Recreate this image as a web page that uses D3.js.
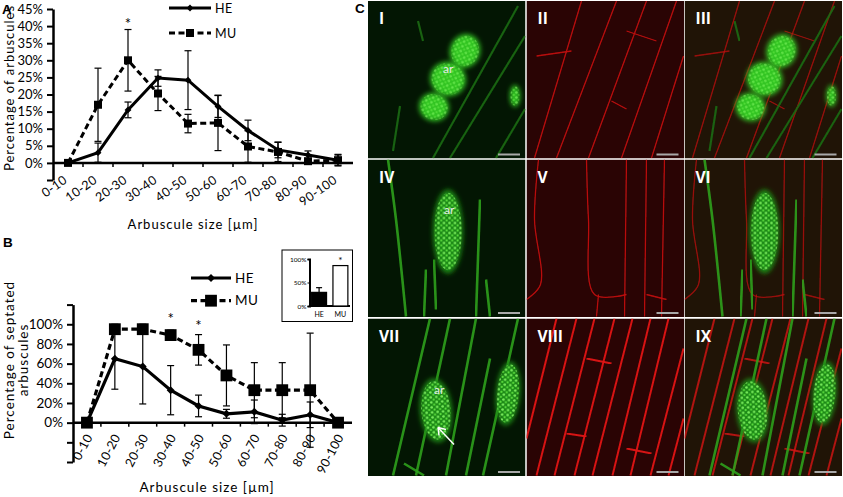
<!DOCTYPE html>
<html><head><meta charset="utf-8">
<script src="https://cdn.jsdelivr.net/npm/d3@7"></script>
<style>
body{margin:0;background:#fff;}
svg{display:block;font-family:Lato,"Open Sans",sans-serif;}
</style></head>
<body>
<svg id="fig" width="843" height="497"></svg>
<script>
// ---------- DATA ----------
const categories = ["0-10","10-20","20-30","30-40","40-50","50-60","60-70","70-80","80-90","90-100"];
// Panel A: percentage of arbuscules per size class
const heA    = [0, 3, 15.5, 24.8, 24.2, 16.5, 9.5, 3.8, 2.3, 0.8];
const heAErr = [0, 2.8, 2.3, 2.4, 8.6, 3.2, 3.0, 2.3, 1.2, 1.5];
const muA    = [0, 17, 30, 20.3, 11.5, 11.7, 4.8, 3.2, 0.5, 0.8];
const muAErr = [0, 10.7, 9, 5, 2.7, 8.1, 4.6, 2.8, 0.8, 1.7];
const sigA   = ["20-30"];
const ticksA = [-5, 0, 5, 10, 15, 20, 25, 30, 35, 40, 45];
// Panel B: percentage of septated arbuscules
const heB    = [0, 65, 57, 33, 17, 9, 11, 2.5, 8, 0];
const heBErr = [0, 31, 38, 25, 11, 4.5, 12, 6, 13, 0];
const muB    = [0, 95, 95, 89, 74, 48, 33, 33, 33, 0];
const muBErr = [0, 5, 5, 5, 15.5, 31, 28, 28, 58, 0];
const sigB   = ["30-40", "40-50"];
const ticksB = [-40, -20, 0, 20, 40, 60, 80, 100, 120];
// Inset: overall septated
const insetCats = ["HE", "MU"];
const insetVals = [29, 86];
const insetErr  = [10, 0];
const insetSig  = ["MU"];
const insetTicks = [0, 50, 100];
// Panel C tiles
const tileLabels = [["I","II","III"],["IV","V","VI"],["VII","VIII","IX"]];
const tileKinds  = ["green","red","merge"];

const svg = d3.select("#fig");
const defs = svg.append("defs");

// ---------- line chart helper ----------
function lineChart(cfg){
  const g = svg.append("g");
  const x = d3.scaleBand().domain(categories).range(cfg.xr).padding(0);
  const y = d3.scaleLinear().domain(cfg.yd).range(cfg.yr);
  const cx = c => x(c) + x.bandwidth()/2;

  const ya = g.append("g").attr("transform",`translate(${cfg.xr[0]},0)`)
    .call(d3.axisLeft(y).tickValues(cfg.ticks).tickSize(6).tickSizeOuter(0)
      .tickFormat(d => (d < 0 || d > cfg.maxLabel) ? "" : d + "%"));
  ya.select(".domain").attr("stroke","#000").attr("stroke-width",2.5);
  ya.selectAll(".tick line").attr("stroke","#000").attr("stroke-width",2);
  ya.selectAll(".tick text").attr("font-size",cfg.fs).attr("fill","#000").attr("x",-10)
    .attr("font-family","Lato");

  const xa = g.append("g").attr("transform",`translate(0,${y(0)})`);
  xa.append("line").attr("x1",cfg.xr[0]).attr("x2",cfg.xr[1]).attr("stroke","#000").attr("stroke-width",2.5);
  xa.selectAll("line.tk").data(categories.slice(1)).join("line").attr("class","tk")
    .attr("x1",d=>x(d)).attr("x2",d=>x(d))
    .attr("y1",0).attr("y2",4).attr("stroke","#000").attr("stroke-width",1.5);
  g.selectAll("text.xl").data(categories).join("text").attr("class","xl")
    .attr("transform", d => `translate(${cx(d)+cfg.lx},${cfg.ly}) rotate(${cfg.rot})`)
    .attr("text-anchor","end").attr("font-size",cfg.xfs).attr("letter-spacing",0.3).text(d=>d);

  const series = [
    {vals: cfg.he, err: cfg.heErr, dash: null, mark: "diamond"},
    {vals: cfg.mu, err: cfg.muErr, dash: cfg.dash, mark: "square"}
  ];
  series.forEach(s => {
    const pts = categories.map((c,i)=>({c, v:s.vals[i], e:s.err[i]}));
    const eb = g.append("g");
    pts.filter(p=>p.e>0).forEach(p=>{
      const X = cx(p.c);
      eb.append("line").attr("x1",X).attr("x2",X).attr("y1",y(p.v-p.e)).attr("y2",y(p.v+p.e)).attr("stroke","#000").attr("stroke-width",1.2);
      [p.v-p.e, p.v+p.e].forEach(v=>eb.append("line").attr("x1",X-3.5).attr("x2",X+3.5).attr("y1",y(v)).attr("y2",y(v)).attr("stroke","#000").attr("stroke-width",1.2));
    });
  });
  const symFor = m => m === "diamond"
      ? d3.symbol().type(d3.symbolDiamond2 || d3.symbolDiamond).size(cfg.dSize)
      : d3.symbol().type(d3.symbolSquare).size(cfg.sSize);
  series.forEach(s => {
    const pts = categories.map((c,i)=>({c, v:s.vals[i]}));
    g.append("path").datum(pts)
      .attr("d", d3.line().x(p=>cx(p.c)).y(p=>y(p.v)))
      .attr("fill","none").attr("stroke","#000").attr("stroke-width",cfg.lw)
      .attr("stroke-dasharray", s.dash);
    const sym = symFor(s.mark);
    g.selectAll(null).data(pts).join("path")
      .attr("transform", p=>`translate(${cx(p.c)},${y(p.v)})`)
      .attr("d", sym()).attr("fill","#000");
  });
  cfg.sig.forEach((c,i)=>{
    g.append("text").attr("x",cx(c)).attr("y",cfg.starY[i]).attr("text-anchor","middle")
      .attr("font-size",15).text("*");
  });
  [["HE",null,"diamond"],["MU",cfg.dash,"square"]].forEach((l,i)=>{
    const ly = cfg.legY[i];
    g.append("line").attr("x1",cfg.legX[0]).attr("x2",cfg.legX[1]).attr("y1",ly).attr("y2",ly)
      .attr("stroke","#000").attr("stroke-width",cfg.lw).attr("stroke-dasharray",l[1]);
    g.append("path").attr("transform",`translate(${(cfg.legX[0]+cfg.legX[1])/2},${ly})`).attr("d",symFor(l[2])()).attr("fill","#000");
    g.append("text").attr("x",cfg.legX[1]+4).attr("y",ly+4.5).attr("font-size",cfg.legFs).attr("letter-spacing",0.4).text(l[0]);
  });
}

lineChart({
  xr:[53,353], yd:[-5,45], yr:[180,9], ticks: ticksA, maxLabel: 45, fs: 13, xfs: 12.5,
  he: heA, heErr: heAErr, mu: muA, muErr: muAErr, dash:"6,3.5", lw:3,
  dSize: 30, sSize: 64, lx: 0, ly: 182, rot: -35, legFs: 12.5,
  sig: sigA, starY:[29], legX:[169,211], legY:[8,33]
});
lineChart({
  xr:[73,352], yd:[-40,120], yr:[462,304.6], ticks: ticksB, maxLabel: 100, fs: 13.5, xfs: 12.5,
  he: heB, heErr: heBErr, mu: muB, muErr: muBErr, dash:"6,3.5", lw:3.2,
  dSize: 40, sSize: 140, lx: 6, ly: 437, rot: -62, legFs: 13.5,
  sig: sigB, starY:[324,331], legX:[191,231], legY:[278,300.7]
});

// axis titles
const ttl = (t, tr, fs) => svg.append("text").attr("transform",tr).attr("text-anchor","middle").attr("font-size",fs).attr("letter-spacing",1).text(t);
ttl("Arbuscule size [µm]", "translate(193,229)", 13);
ttl("Arbuscule size [µm]", "translate(207,492)", 13.5);
ttl("Percentage of arbuscules", "translate(14,88) rotate(-90)", 13);
ttl("Percentage of septated", "translate(14,360) rotate(-90)", 13.5);
ttl("arbuscules", "translate(28,360) rotate(-90)", 13.5);
[["A",2,14],["B",3,247],["C",355,13]].forEach(p=>svg.append("text").attr("x",p[1]).attr("y",p[2]).attr("font-size",13.5).attr("font-weight","bold").attr("font-family","Liberation Sans").text(p[0]));

// ---------- inset ----------
(function(){
  const g = svg.append("g");
  g.append("rect").attr("x",282).attr("y",250).attr("width",70.5).attr("height",71.5).attr("fill","#fff").attr("stroke","#000").attr("stroke-width",1);
  const x = d3.scaleBand().domain(insetCats).range([309.5,350]).paddingInner(0.3).paddingOuter(0.1);
  const y = d3.scaleLinear().domain([0,100]).range([306,259]);
  const ya = g.append("g").attr("transform","translate(309.5,0)")
    .call(d3.axisLeft(y).tickValues(insetTicks).tickSize(2).tickFormat(d=>d+"%"));
  ya.select(".domain").attr("stroke-width",2);
  ya.selectAll(".tick text").attr("font-size",6.5).attr("x",-3).attr("font-family","Lato");
  g.append("line").attr("x1",309.5).attr("x2",350).attr("y1",306).attr("y2",306).attr("stroke","#000").attr("stroke-width",2);
  insetCats.forEach((c,i)=>{
    g.append("rect").attr("x",x(c)).attr("y",y(insetVals[i])).attr("width",x.bandwidth()).attr("height",y(0)-y(insetVals[i]))
      .attr("fill", i===0 ? "#000" : "#fff").attr("stroke","#000").attr("stroke-width",1.2);
    if (insetErr[i] > 0) {
      const X = x(c)+x.bandwidth()/2;
      g.append("line").attr("x1",X).attr("x2",X).attr("y1",y(insetVals[i])).attr("y2",y(insetVals[i]+insetErr[i])).attr("stroke","#000").attr("stroke-width",1.2);
      g.append("line").attr("x1",X-3).attr("x2",X+3).attr("y1",y(insetVals[i]+insetErr[i])).attr("y2",y(insetVals[i]+insetErr[i])).attr("stroke","#000").attr("stroke-width",1.2);
    }
    g.append("text").attr("x",x(c)+x.bandwidth()/2).attr("y",316.5).attr("text-anchor","middle").attr("font-size",7).text(c);
    if (insetSig.includes(c)) g.append("text").attr("x",x(c)+x.bandwidth()/2).attr("y",264).attr("text-anchor","middle").attr("font-size",10).text("*");
  });
})();

// ---------- panel C (schematic micrographs) ----------
const fb = defs.append("filter").attr("id","blur2").attr("x","-40%").attr("y","-40%").attr("width","180%").attr("height","180%");
fb.append("feGaussianBlur").attr("stdDeviation",2.5);
defs.append("filter").attr("id","blur1").append("feGaussianBlur").attr("stdDeviation",0.6);
const pat = defs.append("pattern").attr("id","dots").attr("patternUnits","userSpaceOnUse").attr("width",5.5).attr("height",5);
pat.append("circle").attr("cx",1.5).attr("cy",1.5).attr("r",1.3).attr("fill","#8cff6a");
pat.append("circle").attr("cx",4.2).attr("cy",3.9).attr("r",1.1).attr("fill","#6af048");

const tileX = [368, 526.5, 684.5], tileY = [1, 159.5, 318.5], tileW = 157.5, tileH = 157.5;
const bg = {green:"#031603", red:"#2a0404", merge:"#201406"};
// features per row in tile coordinates: [cx, cy, rx, ry, rotation]
const blobs = [
  [[97,50,15,17,20],[80,78,18,17,20],[66,106,15,14,20],[147,95,5,11,0]],
  [[80,72,15,42,0]],
  [[68,92,16,32,-5],[140,75,12,32,5]]
];
const strands = [
  [[[65,157],[150,5]],[[82,157],[157,35]],[[128,157],[157,108]],[[25,150],[32,105]],[[50,20],[55,40]]],
  [[[20,0],[28,60],[38,157]],[[58,110],[56,157]],[[112,40],[108,157]],[[122,157],[118,120]],[[66,100],[68,150]]],
  [[[25,157],[62,0]],[[48,157],[82,0]],[[78,157],[108,0]],[[98,157],[122,40]],[[115,157],[150,0]],[[36,145],[56,157]]]
];
const walls = [
  [[[8,157],[55,0]],[[30,157],[90,0]],[[62,157],[120,0]],[[95,157],[150,0]],[[125,157],[157,55]],[[10,55],[45,50]],[[85,100],[100,108]],[[100,30],[130,40]]],
  [[[12,0],[8,60],[14,125],[0,140]],[[60,0],[62,60],[68,135],[100,135]],[[100,0],[98,157]],[[120,0],[118,157]],[[138,0],[135,157]],[[72,135],[70,157]],[[120,135],[140,140]]],
  [[[0,120],[30,0]],[[10,157],[50,0]],[[28,157],[68,0]],[[48,157],[88,0]],[[66,157],[106,0]],[[86,157],[124,0]],[[104,157],[142,0]],[[124,157],[157,30]],[[142,157],[157,100]],[[60,40],[85,45]],[[40,115],[60,118]],[[100,130],[125,135]]]
];
const arPos = [[75,72],[76,54],[66,75]];
tileLabels.forEach((row, r) => {
  row.forEach((lab, c) => {
    const kind = tileKinds[c];
    const g = svg.append("g").attr("transform",`translate(${tileX[c]},${tileY[r]})`);
    g.append("clipPath").attr("id",`clip${r}${c}`).append("rect").attr("width",tileW).attr("height",tileH);
    const inner = g.append("g").attr("clip-path",`url(#clip${r}${c})`);
    inner.append("rect").attr("width",tileW).attr("height",tileH).attr("fill",bg[kind]);
    const lg = d3.line().curve(d3.curveCatmullRom);
    if (kind !== "green") {
      walls[r].forEach(w => inner.append("path").attr("d",lg(w)).attr("fill","none")
        .attr("stroke", r===2 ? "#e01414" : "#c01010").attr("stroke-width", r===2 ? 2 : 1.3)
        .attr("opacity", kind==="merge" ? 0.75 : 0.95).attr("filter","url(#blur1)"));
    }
    if (kind !== "red") {
      strands[r].forEach(s => inner.append("path").attr("d",lg(s)).attr("fill","none")
        .attr("stroke", r===0 ? "#1a6a12" : "#2fa01c").attr("stroke-width", r===0 ? 2.2 : 2.6)
        .attr("opacity",0.9).attr("filter","url(#blur1)"));
      blobs[r].forEach(b => {
        const tr = `translate(${b[0]},${b[1]}) rotate(${b[4]})`;
        inner.append("ellipse").attr("transform",tr).attr("rx",b[2]).attr("ry",b[3])
          .attr("fill", r===0 ? "#30c422" : "#1f8a14").attr("filter","url(#blur2)");
        inner.append("ellipse").attr("transform",tr).attr("rx",b[2]*0.92).attr("ry",b[3]*0.92)
          .attr("fill","url(#dots)").attr("opacity", r===0 ? 0.55 : 0.85);
      });
    }
    if (kind === "green") {
      g.append("text").attr("x",arPos[r][0]).attr("y",arPos[r][1]).attr("font-size",12).attr("fill","#e8e8e8").text("ar");
    }
    g.append("text").attr("x",11).attr("y",23).attr("font-size",15.5).attr("font-weight","bold")
      .attr("font-family","Open Sans").attr("fill","#fff").text(lab);
    g.append("line").attr("x1",130).attr("x2",152).attr("y1",153.5).attr("y2",153.5).attr("stroke","#a8a8a8").attr("stroke-width",2);
  });
});
// arrow in VII
(function(){
  const g = svg.append("g").attr("transform",`translate(${tileX[0]},${tileY[2]})`);
  g.append("line").attr("x1",86).attr("y1",126).attr("x2",70).attr("y2",109).attr("stroke","#fff").attr("stroke-width",1.5);
  g.append("path").attr("d","M70,109 L78,111 M70,109 L71,117").attr("stroke","#fff").attr("stroke-width",1.5).attr("fill","none");
})();
</script>
</body></html>
